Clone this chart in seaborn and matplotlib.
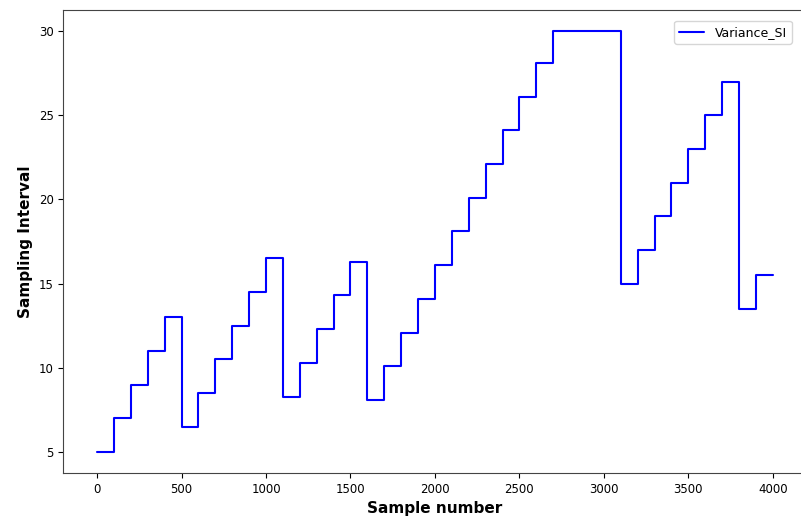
import pandas as pd
import numpy as np
import matplotlib
matplotlib.use("Agg")
import matplotlib.pyplot as plt
import seaborn as sns

# sampling interval held for each block of 100 samples
block_start = list(range(0, 4000, 100))
interval = [5, 7, 9, 11, 13,
            6.5, 8.5, 10.5, 12.5, 14.5, 16.5,
            8.3, 10.3, 12.3, 14.3, 16.3,
            8.1, 10.1, 12.1, 14.1, 16.1, 18.1, 20.1, 22.1, 24.1, 26.1, 28.1,
            30, 30, 30, 30,
            15, 17, 19, 21, 23, 25, 27,
            13.5, 15.5]
series_name = "Variance_SI"

# last block is held up to sample 4000
x = block_start + [4000]
y = interval + [interval[-1]]
df = pd.DataFrame({"Sample number": x, "Sampling Interval": y, "serie": series_name})

sns.set_style("ticks")
plt.rcParams["font.family"] = ["DejaVu Sans"]
plt.rcParams["text.color"] = "black"
plt.rcParams["axes.labelcolor"] = "black"
plt.rcParams["xtick.color"] = "black"
plt.rcParams["ytick.color"] = "black"

fig, ax = plt.subplots(figsize=(8.01, 5.24), dpi=100)
sns.lineplot(data=df, x="Sample number", y="Sampling Interval", hue="serie",
             palette=["blue"], drawstyle="steps-post", linewidth=1.5, ax=ax)

ax.set_xlabel("Sample number", fontsize=11, fontweight="bold")
ax.set_ylabel("Sampling Interval", fontsize=11, fontweight="bold")
ax.set_xticks(range(0, 4001, 500))
ax.set_yticks([5, 10, 15, 20, 25, 30])
ax.tick_params(labelsize=8.5)
ax.set_xlim(-200, 4200)
ax.set_ylim(3.75, 31.25)
for s in ax.spines.values():
    s.set_color("#444444")
ax.legend(loc="upper right", fontsize=9, title=None,
          bbox_to_anchor=(0.996, 0.972), bbox_transform=fig.transFigure)

# the right edge of the axes is cut off slightly, as in the reference
fig.subplots_adjust(left=0.079, right=1.007, top=0.981, bottom=0.097)
fig.savefig("out.png", dpi=100)
